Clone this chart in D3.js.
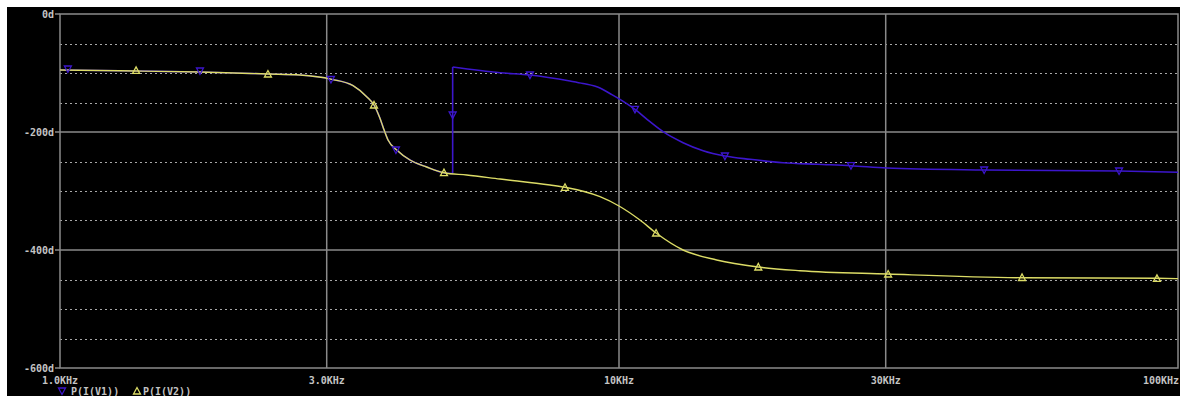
<!DOCTYPE html>
<html>
<head>
<meta charset="utf-8">
<script src="https://cdn.jsdelivr.net/npm/d3@7"></script>
<style>
  html, body { margin: 0; padding: 0; background: #fff; }
  svg { display: block; }
  text { font-family: "DejaVu Sans Mono", monospace; font-weight: bold; font-size: 10px; fill: #c4c4c4; }
</style>
</head>
<body>
<div id="chart"></div>
<script>
// P(I(V1)) - blue, phase in degrees vs frequency in Hz
var freqV1 = [1000, 1368, 1780, 2355, 2688, 3063, 3344, 3537, 3645, 3736, 3782, 3862, 4003, 4228, 4529, 4863, 5040,
  5040, 6125, 6930, 8170, 8620, 9247, 9630, 10040, 10680, 11360, 11990, 13020, 14140, 15470, 17160, 19650, 22580, 26000, 30120, 45000, 78450, 100000];
var phaseV1 = [-94.9, -96.6, -98.3, -101.7, -103.4, -110.7, -121.5, -140.2, -154.2, -176.8, -191, -213.6, -230.5, -247.5, -259.3, -269, -270.3,
  -89.8, -99.5, -103.4, -113.6, -117.8, -125.4, -134.7, -144.6, -161.5, -182.5, -199.5, -218.1, -231.7, -240.7, -246.3, -252, -254.7, -257.1, -261, -264.4, -266.1, -268.3];

// P(I(V2)) - yellow
var freqV2 = [1000, 1368, 1780, 2355, 2688, 3063, 3344, 3537, 3645, 3736, 3782, 3862, 4003, 4228, 4529, 4863, 5340, 6125, 7526, 8006,
  9247, 10000, 10900, 11650, 13020, 14950, 17730, 21080, 30250, 52530, 91700, 100000];
var phaseV2 = [-94.9, -96.6, -98.3, -101.7, -103.4, -110.7, -121.5, -140.2, -154.2, -176.8, -191, -213.6, -230.5, -247.5, -259.3, -269, -272.9, -279.7, -289.8, -293.7,
  -309.7, -325.4, -349.2, -371.2, -400, -416.9, -428.8, -435.1, -440.7, -447, -448, -448.6];

// trace markers
var markFreqV1 = [1033, 1780, 3053, 3990, 5040, 6930, 10680, 15470, 26000, 45000, 78450];
var markPhaseV1 = [-93.2, -96.6, -111, -230.5, -171.2, -103.4, -161.5, -240.7, -257.1, -264.4, -266.1];
var markFreqV2 = [1368, 2355, 3645, 4863, 8006, 11650, 17750, 30300, 52600, 91700];
var markPhaseV2 = [-95.5, -101.7, -154.2, -269, -293.7, -371.2, -428.8, -440.7, -446.6, -448];

// axes
var xTicks = [1000, 3000, 10000, 30000, 100000];
var xTickLabels = ['1.0KHz', '3.0KHz', '10KHz', '30KHz', '100KHz'];
var yTicks = [0, -200, -400, -600];
var yTickLabels = ['0d', '-200d', '-400d', '-600d'];
var yMinor = [-50, -100, -150, -250, -300, -350, -450, -500, -550];

var width = 1180, height = 396;
var margin = { top: 14, right: 2, bottom: 28, left: 60 };
var chartWidth = width - margin.left - margin.right;
var chartHeight = height - margin.top - margin.bottom;

var blue = '#3c16cc';
var yellow = '#dcdc66';
var gridSolid = '#8a8a8a';
var gridDash = '#a8a8a8';

var svg = d3.select('#chart').append('svg')
  .attr('width', width)
  .attr('height', height);

// black plot window (white edge at top and left)
svg.append('rect')
  .attr('x', 7).attr('y', 7)
  .attr('width', width - 7).attr('height', height - 7)
  .attr('fill', '#000');

var g = svg.append('g')
  .attr('transform', `translate(${margin.left}, ${margin.top})`);

var xScale = d3.scaleLog()
  .domain([1000, 100000])
  .range([0, chartWidth]);

var yScale = d3.scaleLinear()
  .domain([-600, 0])
  .range([chartHeight, 0]);

// dashed minor gridlines
g.selectAll('line.minor')
  .data(yMinor)
  .enter()
  .append('line')
  .attr('class', 'minor')
  .attr('x1', 0).attr('x2', chartWidth)
  .attr('y1', d => Math.round(yScale(d)) + 0.5)
  .attr('y2', d => Math.round(yScale(d)) + 0.5)
  .attr('stroke', gridDash)
  .attr('stroke-width', 1)
  .attr('stroke-dasharray', '2,3');

// solid major gridlines
g.selectAll('line.hmajor')
  .data(yTicks.slice(1, -1))
  .enter()
  .append('line')
  .attr('x1', 0).attr('x2', chartWidth)
  .attr('y1', d => yScale(d))
  .attr('y2', d => yScale(d))
  .attr('stroke', gridSolid)
  .attr('stroke-width', 1.5);

g.selectAll('line.vmajor')
  .data(xTicks.slice(1, -1))
  .enter()
  .append('line')
  .attr('x1', d => xScale(d)).attr('x2', d => xScale(d))
  .attr('y1', 0).attr('y2', chartHeight)
  .attr('stroke', gridSolid)
  .attr('stroke-width', 1.5);

// frame
g.append('rect')
  .attr('x', 0).attr('y', 0)
  .attr('width', chartWidth).attr('height', chartHeight)
  .attr('fill', 'none')
  .attr('stroke', gridSolid)
  .attr('stroke-width', 1.5);

// y ticks and labels
g.selectAll('line.ytick')
  .data(yTicks)
  .enter()
  .append('line')
  .attr('x1', -5).attr('x2', 0)
  .attr('y1', d => yScale(d)).attr('y2', d => yScale(d))
  .attr('stroke', gridSolid)
  .attr('stroke-width', 1.5);

g.selectAll('text.ylab')
  .data(yTicks)
  .enter()
  .append('text')
  .attr('x', -6)
  .attr('y', d => yScale(d) + 3.5)
  .attr('text-anchor', 'end')
  .text((d, i) => yTickLabels[i]);

// x labels
g.selectAll('text.xlab')
  .data(xTicks)
  .enter()
  .append('text')
  .attr('x', (d, i) => i === xTicks.length - 1 ? xScale(d) + 1 : xScale(d))
  .attr('y', chartHeight + 16)
  .attr('text-anchor', (d, i) => i === xTicks.length - 1 ? 'end' : 'middle')
  .text((d, i) => xTickLabels[i]);

// traces
var smooth = d3.line()
  .x(d => xScale(d[0]))
  .y(d => yScale(d[1]))
  .curve(d3.curveMonotoneX);
var straight = d3.line()
  .x(d => xScale(d[0]))
  .y(d => yScale(d[1]));

var dataV1 = freqV1.map((f, i) => [f, phaseV1[i]]);
var dataV2 = freqV2.map((f, i) => [f, phaseV2[i]]);

// split the blue trace where it wraps (same frequency twice)
var jump = dataV1.findIndex((d, i) => i > 0 && d[0] === dataV1[i - 1][0]);
var v1Parts = [dataV1.slice(0, jump), dataV1.slice(jump)];

v1Parts.forEach(function(part) {
  g.append('path')
    .datum(part)
    .attr('d', smooth)
    .attr('fill', 'none')
    .attr('stroke', blue)
    .attr('stroke-width', 1.6);
});
g.append('path')
  .datum([dataV1[jump - 1], dataV1[jump]])
  .attr('d', straight)
  .attr('fill', 'none')
  .attr('stroke', blue)
  .attr('stroke-width', 1.6);

g.append('path')
  .datum(dataV2)
  .attr('d', smooth)
  .attr('fill', 'none')
  .attr('stroke', yellow)
  .attr('stroke-width', 1.4);

// triangle markers
function triDown(x, y) {
  return `M${x - 3.5},${y - 3} L${x + 3.5},${y - 3} L${x},${y + 3.5} Z`;
}
function triUp(x, y) {
  return `M${x - 3.5},${y + 3} L${x + 3.5},${y + 3} L${x},${y - 3.5} Z`;
}

g.selectAll('path.m1')
  .data(markFreqV1)
  .enter()
  .append('path')
  .attr('d', (d, i) => triDown(xScale(d), yScale(markPhaseV1[i])))
  .attr('fill', 'none')
  .attr('stroke', blue)
  .attr('stroke-width', 1.3);

g.selectAll('path.m2')
  .data(markFreqV2)
  .enter()
  .append('path')
  .attr('d', (d, i) => triUp(xScale(d), yScale(markPhaseV2[i])))
  .attr('fill', 'none')
  .attr('stroke', yellow)
  .attr('stroke-width', 1.3);

// legend
var legY = height - 1;
svg.append('path')
  .attr('d', triDown(62, legY - 4))
  .attr('fill', 'none')
  .attr('stroke', blue)
  .attr('stroke-width', 1.3);
svg.append('text')
  .attr('x', 71).attr('y', legY)
  .text('P(I(V1))');
svg.append('path')
  .attr('d', triUp(137, legY - 4))
  .attr('fill', 'none')
  .attr('stroke', yellow)
  .attr('stroke-width', 1.3);
svg.append('text')
  .attr('x', 143).attr('y', legY)
  .text('P(I(V2))');
</script>
</body>
</html>
